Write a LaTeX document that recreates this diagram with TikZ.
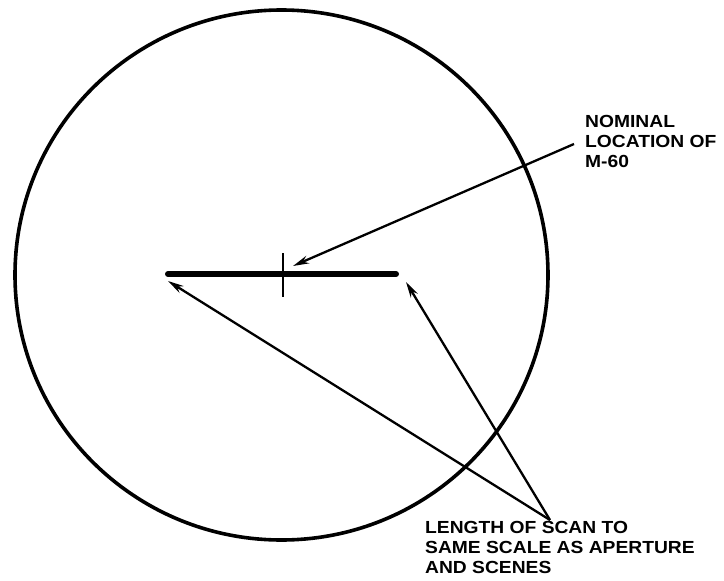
\documentclass[tikz,border=0pt]{standalone}
\usepackage{fontspec}
\newfontfamily\lab[FakeStretch=1.1]{Liberation Sans}
\usetikzlibrary{arrows.meta}
\begin{document}
\begin{tikzpicture}[x=1pt,y=-1pt,
  outline/.style={line width=3.6pt},
  scanbar/.style={line width=6pt,line cap=round},
  pointer/.style={line width=2.3pt,-{Stealth[length=16pt,width=8pt]}},
  labeltext/.style={inner sep=0pt,anchor=north west,align=left,font=\lab\bfseries\fontsize{17.5}{19.8}\selectfont}]
\useasboundingbox (0,0) rectangle (724,581);
% aperture outline
\draw[outline] (281.5,275) ellipse [x radius=266.5, y radius=265];
% scan line and M-60 tick
\coordinate (sl) at (168,274);
\coordinate (sr) at (396,274);
\coordinate (tt) at (283,253);
\coordinate (tb) at (283,297);
\draw[scanbar] (sl) -- (sr);
\draw[line width=2pt] (tt) -- (tb);
% labels
\node[labeltext] (nom) at (585,115.5) {NOMINAL\\LOCATION OF\\M-60};
\node[labeltext] (len) at (425,521.5) {LENGTH OF SCAN TO\\SAME SCALE AS APERTURE\\AND SCENES};
% arrow anchor points
\coordinate (nomtail) at (574,144);
\coordinate (m60) at (293,266);
\coordinate (lentail) at (550,520);
\coordinate (lefttip) at (168,281);
\coordinate (righttip) at (406,282);
\draw[pointer] (nomtail) -- (m60);
\draw[pointer] (lentail) -- (lefttip);
\draw[pointer] (lentail) -- (righttip);
\end{tikzpicture}
\end{document}
